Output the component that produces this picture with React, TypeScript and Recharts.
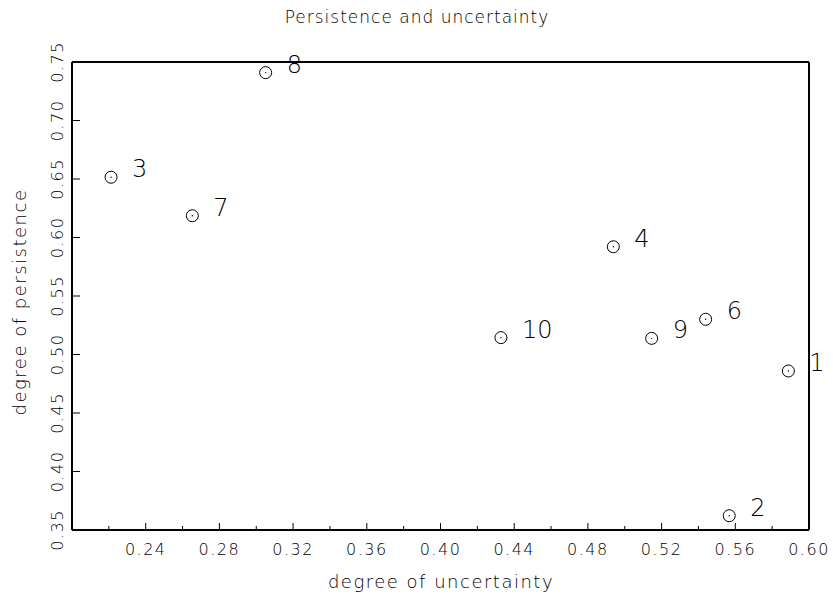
import React from "react";
import { ScatterChart, Scatter, XAxis, YAxis } from "recharts";

// region ids as printed next to each marker
const pointLabels = ["1", "2", "3", "4", "6", "7", "8", "9", "10"];
const uncertainty = [0.5888, 0.5567, 0.2212, 0.4938, 0.5439, 0.2653, 0.3051, 0.5146, 0.4328];
const persistence = [0.4859, 0.3622, 0.6515, 0.5921, 0.5301, 0.6186, 0.7409, 0.5138, 0.5144];

const xTicks = [0.2, 0.22, 0.24, 0.26, 0.28, 0.3, 0.32, 0.34, 0.36, 0.38, 0.4, 0.42, 0.44, 0.46, 0.48, 0.5, 0.52, 0.54, 0.56, 0.58, 0.6];
const yTicks = [0.35, 0.4, 0.45, 0.5, 0.55, 0.6, 0.65, 0.7, 0.75];

const FONT = "'DejaVu Sans', sans-serif";
const W = 833;
const H = 601;

const data = pointLabels.map((label, i) => ({ label, x: uncertainty[i], y: persistence[i] }));

const isMajorX = (v: number) => Math.round(v * 100) % 4 === 0;

const BottomTick = (props: any) => {
  const { x, y, payload } = props;
  const v = payload.value;
  const major = isMajorX(v);
  const showLabel = major && v > 0.21;
  return (
    <g>
      <line x1={x} y1={y} x2={x} y2={y - (major ? 7 : 4)} stroke="#000" strokeWidth={1} />
      {showLabel && (
        <text x={x} y={y + 25} textAnchor="middle" fontFamily={FONT} fontWeight={200} fontSize={16} letterSpacing={1.5} fill="#000">
          {v.toFixed(2)}
        </text>
      )}
    </g>
  );
};

const TopTick = (props: any) => {
  const { x, y, payload } = props;
  const major = isMajorX(payload.value);
  return <line x1={x} y1={y} x2={x} y2={y + (major ? 7 : 4)} stroke="#000" strokeWidth={1} />;
};

const LeftTick = (props: any) => {
  const { x, y, payload } = props;
  const tx = x - 9;
  return (
    <g>
      <line x1={x} y1={y} x2={x + 8} y2={y} stroke="#000" strokeWidth={1} />
      <text
        x={tx}
        y={y}
        transform={`rotate(-90 ${tx} ${y})`}
        textAnchor="middle"
        fontFamily={FONT}
        fontWeight={200}
        fontSize={16}
        letterSpacing={1.5}
        fill="#000"
      >
        {payload.value.toFixed(2)}
      </text>
    </g>
  );
};

const RightTick = (props: any) => {
  const { x, y } = props;
  return <line x1={x} y1={y} x2={x - 8} y2={y} stroke="#000" strokeWidth={1} />;
};

const Marker = (props: any) => {
  const { cx, cy, payload } = props;
  if (cx == null || cy == null) return null;
  return (
    <g>
      <circle cx={cx} cy={cy} r={6} fill="none" stroke="#000" strokeWidth={1} />
      <circle cx={cx} cy={cy} r={0.7} fill="#000" />
      <text x={cx + 21} y={cy} fontFamily={FONT} fontWeight={200} fontSize={24} fill="#000">
        {payload.label}
      </text>
    </g>
  );
};

export default function App() {
  return (
    <div style={{ position: "absolute", left: 0, top: 0, width: W, height: H, background: "#fff" }}>
      <ScatterChart width={W} height={H} margin={{ top: 61, right: 23, bottom: 70, left: 71 }}>
        <XAxis
          type="number"
          dataKey="x"
          domain={[0.2, 0.6]}
          ticks={xTicks}
          interval={0}
          height={1}
          tickSize={0}
          tickMargin={0}
          tick={<BottomTick />}
          tickLine={false}
          axisLine={{ stroke: "#000", strokeWidth: 2 }}
        />
        <XAxis
          xAxisId="top"
          orientation="top"
          type="number"
          dataKey="x"
          domain={[0.2, 0.6]}
          ticks={xTicks}
          interval={0}
          height={1}
          tickSize={0}
          tickMargin={0}
          tick={<TopTick />}
          tickLine={false}
          axisLine={{ stroke: "#000", strokeWidth: 2 }}
        />
        <YAxis
          type="number"
          dataKey="y"
          domain={[0.35, 0.75]}
          ticks={yTicks}
          interval={0}
          width={1}
          tickSize={0}
          tickMargin={0}
          tick={<LeftTick />}
          tickLine={false}
          axisLine={{ stroke: "#000", strokeWidth: 2 }}
        />
        <YAxis
          yAxisId="right"
          orientation="right"
          type="number"
          dataKey="y"
          domain={[0.35, 0.75]}
          ticks={yTicks}
          interval={0}
          width={1}
          tickSize={0}
          tickMargin={0}
          tick={<RightTick />}
          tickLine={false}
          axisLine={{ stroke: "#000", strokeWidth: 2 }}
        />
        <Scatter data={data} shape={(p: any) => <Marker {...p} />} isAnimationActive={false} />
        <text x={417} y={23} textAnchor="middle" fontFamily={FONT} fontWeight={200} fontSize={17} letterSpacing={1} fill="#000">
          Persistence and uncertainty
        </text>
        <text x={441} y={588} textAnchor="middle" fontFamily={FONT} fontWeight={200} fontSize={18} letterSpacing={1.5} fill="#000">
          degree of uncertainty
        </text>
        <text
          x={26}
          y={302}
          transform="rotate(-90 26 302)"
          textAnchor="middle"
          fontFamily={FONT}
          fontWeight={200}
          fontSize={18}
          letterSpacing={1.5}
          fill="#000"
        >
          degree of persistence
        </text>
      </ScatterChart>
    </div>
  );
}
